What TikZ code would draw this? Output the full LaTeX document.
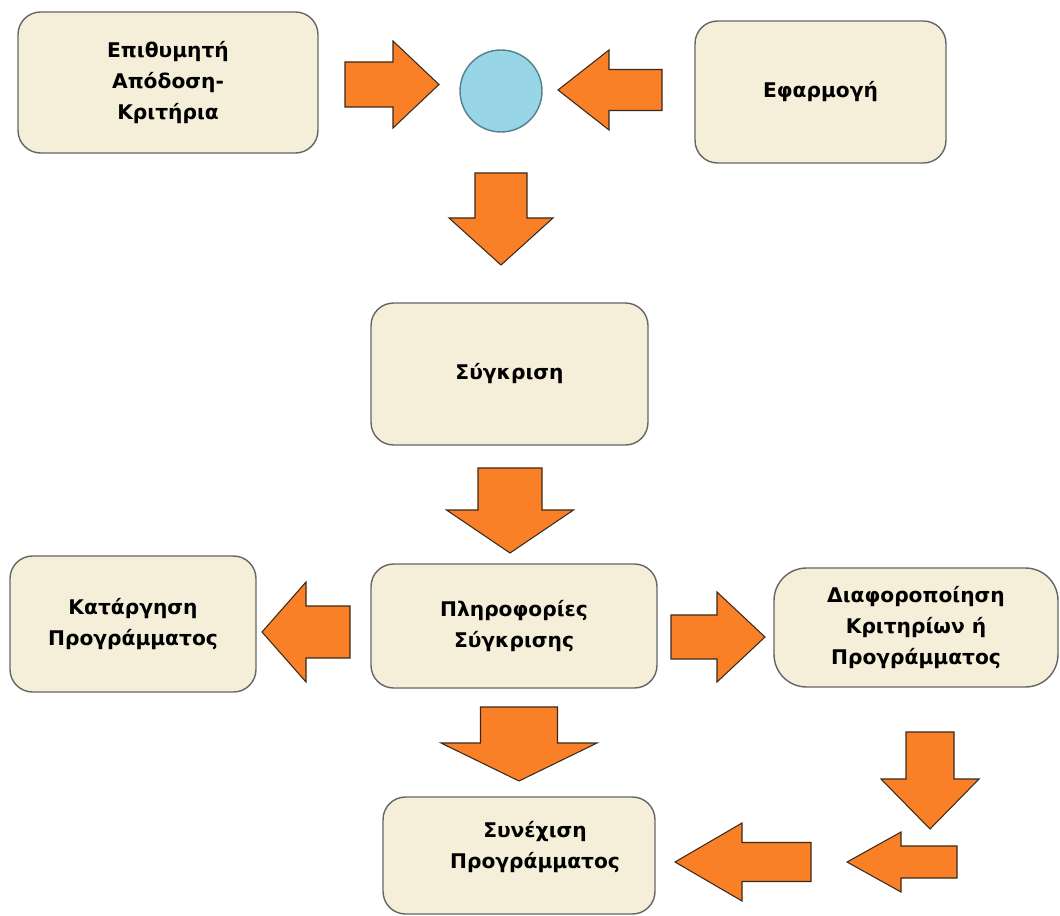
\documentclass[tikz,border=0pt]{standalone}
\usepackage{fontspec}
\setmainfont{DejaVu Sans}
\definecolor{cream}{HTML}{F5EFD9}
\definecolor{boxgray}{HTML}{656565}
\definecolor{fatorange}{HTML}{F98026}
\definecolor{arrowedge}{HTML}{3A2A1C}
\definecolor{skyblue}{HTML}{98D5E6}
\definecolor{circedge}{HTML}{557F8A}
\usetikzlibrary{positioning, calc}
\newcommand{\fatarrow}[6]
{
	\draw[fat, shift={#1}, rotate=#2] (0,#5) -- ({#3-#4},#5) -- ({#3-#4},#6) -- (#3,0) -- ({#3-#4},-#6) -- ({#3-#4},-#5) -- (0,-#5) -- cycle
}

\begin{document}
\begin{tikzpicture}[x=0.02cm, y=-0.02cm,
every node/.append style={align=center, font=\bfseries\fontsize{11.5}{17.5}\selectfont},
box/.style={draw=boxgray, fill=cream, line width=0.8pt, rounded corners=0.45cm, inner sep=0pt},
fat/.style={draw=arrowedge, fill=fatorange, line width=0.6pt, line join=miter}]

\useasboundingbox (0,0) rectangle (1060,915);

\node[box, minimum width=6cm, minimum height=2.82cm] at (168, 82.5) (goal){Επιθυμητή\\Απόδοση-\\Κριτήρια};
\node[box, minimum width=5.02cm, minimum height=2.84cm] at (820.5, 92) (app){Εφαρμογή};
\node[circle, draw=circedge, fill=skyblue, line width=0.8pt, minimum size=1.64cm] at (501, 91) (junction){};

\node[box, minimum width=5.54cm, minimum height=2.84cm] at (509.5, 374) (compare){Σύγκριση};
\node[box, minimum width=5.72cm, minimum height=2.48cm] at (514, 626) (info){Πληροφορίες\\Σύγκρισης};
\node[box, minimum width=4.92cm, minimum height=2.72cm] at (133, 624) (cancel){Κατάργηση\\Προγράμματος};
\node[box, rounded corners=0.65cm, minimum width=5.68cm, minimum height=2.38cm] at (916, 627.5) (modify){Διαφοροποίηση\\Κριτηρίων ή\\Προγράμματος};
\node[box, minimum width=5.44cm, minimum height=2.34cm] at (519, 855.5) (cont){};
\node at (535, 847) (conttext){Συνέχιση\\Προγράμματος};

\fatarrow{(345,84.5)}{0}{94}{46}{22.5}{43.5};
\fatarrow{(662,90)}{180}{104}{51}{20.5}{40};
\fatarrow{(501,173)}{-90}{92}{47}{26}{52};
\fatarrow{(510,468)}{-90}{85}{43}{32}{63.5};
\fatarrow{(350,632)}{180}{88}{44}{26}{50};
\fatarrow{(671,637)}{0}{94}{48}{22}{45};
\fatarrow{(519,707)}{-90}{74}{38}{38.5}{78};
\fatarrow{(930,732)}{-90}{97}{50}{24}{49};
\fatarrow{(957,862)}{180}{110}{54}{16}{30};
\fatarrow{(811,862)}{180}{136}{67}{19.5}{39};
\end{tikzpicture}
\end{document}
